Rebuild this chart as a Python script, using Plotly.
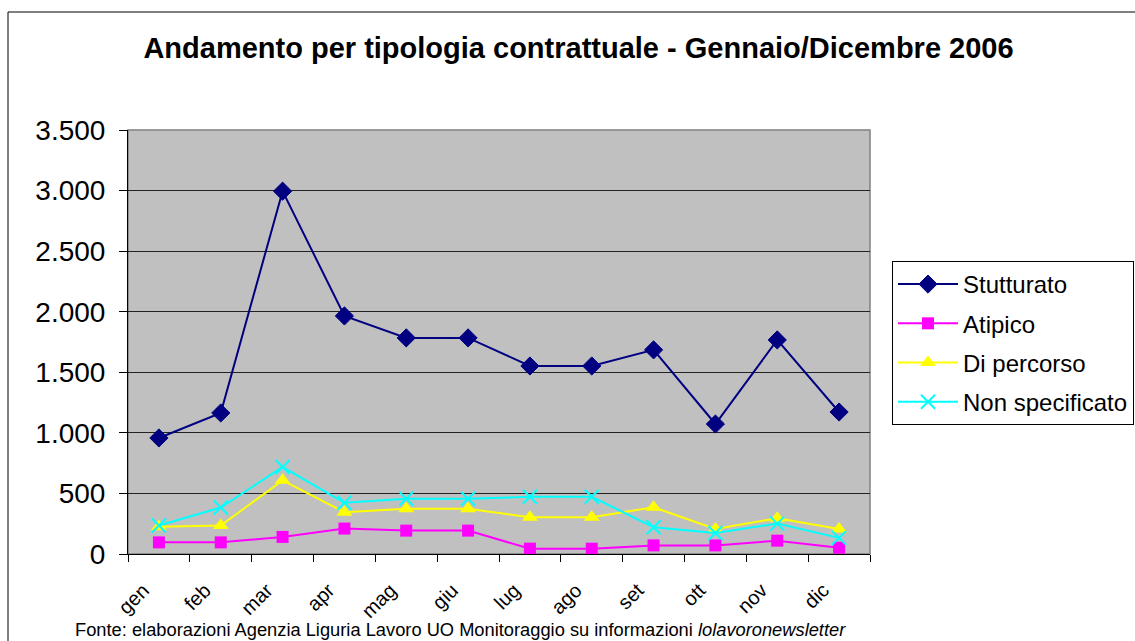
import plotly.graph_objects as go

months = ["gen", "feb", "mar", "apr", "mag", "giu", "lug", "ago", "set", "ott", "nov", "dic"]
stutturato = [958, 1164, 2995, 1965, 1784, 1784, 1552, 1552, 1685, 1073, 1767, 1172]
atipico = [96, 96, 141, 210, 193, 193, 44, 44, 71, 71, 110, 52]
di_percorso = [224, 235, 608, 345, 373, 373, 303, 303, 386, 207, 295, 207]
non_specificato = [235, 384, 718, 423, 456, 456, 472, 472, 221, 174, 251, 133]
y_ticks = [0, 500, 1000, 1500, 2000, 2500, 3000, 3500]
y_tick_labels = ["0", "500", "1.000", "1.500", "2.000", "2.500", "3.000", "3.500"]

FONT = "Arial, Liberation Sans, sans-serif"

fig = go.Figure()
series = [
    ("Stutturato", stutturato, "#000080", "diamond", 14, 1),
    ("Atipico", atipico, "#FF00FF", "square", 12, 0),
    ("Di percorso", di_percorso, "#FFFF00", "triangle-up", 14, 0),
    ("Non specificato", non_specificato, "#00FFFF", "x-thin", 14, 2),
]
for i, (name, vals, col, sym, size, lw) in enumerate(series):
    fig.add_trace(go.Scatter(
        x=months, y=vals, name=name, mode="lines+markers",
        legendgroup="g%d" % i,
        line=dict(color=col, width=2),
        marker=dict(symbol=sym, size=size, color=col,
                    line=dict(color=col, width=lw)),
    ))

W, H = 1135, 641
L, R, T, B = 128, 870, 130, 554
pw, ph = R - L, B - T

def px(x):
    return (x - L) / pw

def py(y):
    return (B - y) / ph

NB = "\u00a0\u00a0\u00a0\u00a0"

fig.update_layout(
    width=W, height=H,
    margin=dict(l=L, r=W - R, t=T, b=H - B, autoexpand=False),
    paper_bgcolor="white",
    plot_bgcolor="#C0C0C0",
    font=dict(family=FONT, color="black"),
    title=dict(
        text="<b>Andamento per tipologia contrattuale - Gennaio/Dicembre 2006</b>",
        font=dict(size=29, family=FONT, color="black"),
        x=578.5 / W, xanchor="center", y=1 - 48 / H, yanchor="middle",
    ),
    xaxis=dict(
        type="category", range=[-0.5, 11.5],
        tickvals=months, ticktext=[m + NB for m in months],
        showgrid=False, showline=True, linecolor="black", linewidth=1,
        ticks="outside", tickson="boundaries", ticklen=7, tickcolor="black",
        tickangle=-45, tickfont=dict(size=20, family=FONT),
        ticklabelstandoff=0,
    ),
    yaxis=dict(
        range=[0, 3500], tickvals=y_ticks, ticktext=y_tick_labels,
        showgrid=True, gridcolor="#222222", gridwidth=1,
        showline=True, linecolor="black", linewidth=1,
        ticks="outside", ticklen=8, tickcolor="black",
        tickfont=dict(size=28, family=FONT),
        ticklabelstandoff=8, zeroline=False,
    ),
    legend=dict(
        x=px(892), y=py(261), xanchor="left", yanchor="top",
        bgcolor="white", bordercolor="black", borderwidth=1,
        font=dict(size=24, family=FONT),
        tracegroupgap=5, itemwidth=60,
    ),
    showlegend=True,
    shapes=[
        dict(type="rect", xref="paper", yref="paper", x0=0, x1=1, y0=0, y1=1,
             line=dict(color="#808080", width=1.5), layer="below"),
        dict(type="rect", xref="paper", yref="paper",
             x0=px(8), x1=px(1145), y0=py(652), y1=py(12),
             line=dict(color="black", width=1), layer="below"),
    ],
    annotations=[
        dict(text="Fonte: elaborazioni Agenzia Liguria Lavoro UO Monitoraggio su informazioni <i>lolavoronewsletter</i>",
             xref="paper", yref="paper", x=px(460), y=py(629),
             xanchor="center", yanchor="middle", showarrow=False,
             font=dict(size=18.3, family=FONT, color="black")),
    ],
)

fig.write_html("out.html", config={"displayModeBar": False},
               post_script="document.body.style.margin='0';document.body.style.overflow='hidden';")
